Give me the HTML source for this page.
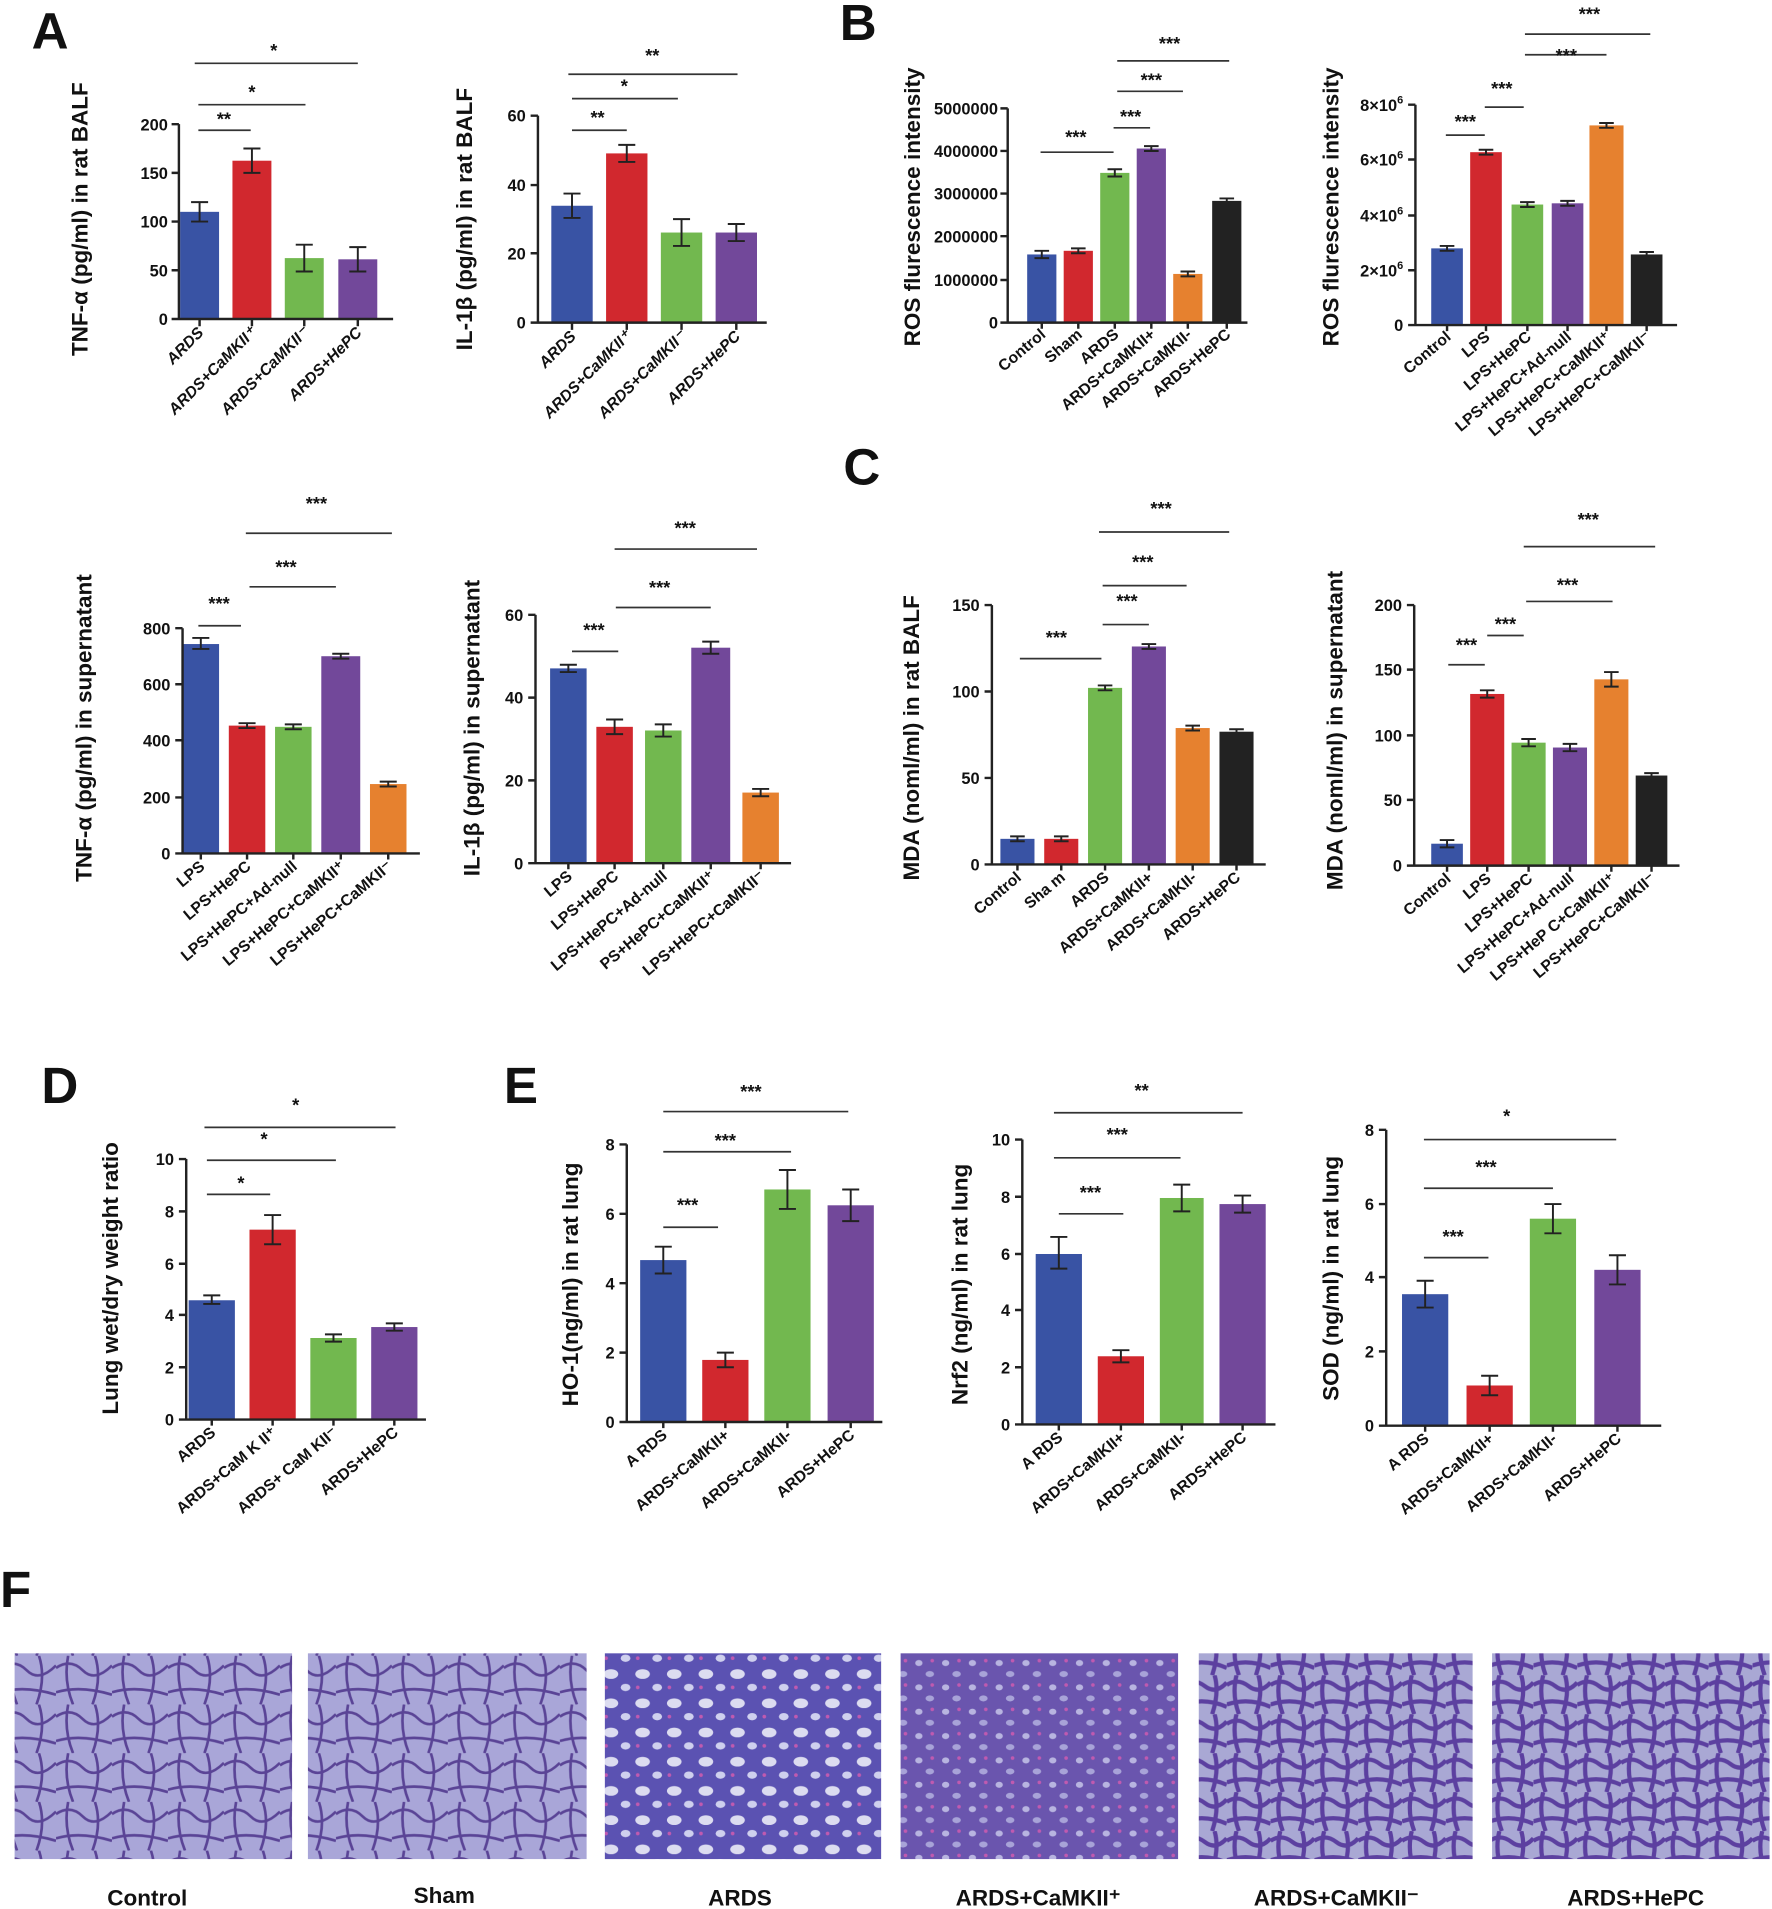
<!DOCTYPE html>
<html><head><meta charset="utf-8"><style>
html,body{margin:0;padding:0;background:#fff}
svg{display:block}
text{font-family:"Liberation Sans",Arial,sans-serif;font-weight:bold;fill:#111}
.t{font-size:13.5px}
.xl{font-size:13px}
.yl{font-size:18.5px}
.pl{font-size:42px}
.s{font-size:15px}
.ax{stroke:#222;stroke-width:2;fill:none}
.e{stroke:#222;stroke-width:1.6;fill:none}
.sg{stroke:#333;stroke-width:1.4}
.cap{font-size:18.5px}
</style></head><body>
<svg width="1772" height="1909" viewBox="0 0 1456 1568" preserveAspectRatio="none" xmlns="http://www.w3.org/2000/svg">
<defs>
<pattern id="pl" width="46" height="40" patternUnits="userSpaceOnUse">
<rect width="46" height="40" fill="#a9a6d8"/>
<path d="M0 10 Q12 2 22 12 T46 8 M10 0 Q6 20 14 40 M32 0 Q38 18 30 40 M0 30 Q20 24 46 32" stroke="#5a4496" stroke-width="2.2" fill="none"/>
</pattern>
<pattern id="pd" width="26" height="24" patternUnits="userSpaceOnUse">
<rect width="26" height="24" fill="#5b52b2"/>
<ellipse cx="8" cy="7" rx="6" ry="4" fill="#dcdcf0"/>
<ellipse cx="20" cy="18" rx="4" ry="3" fill="#cfd0ee"/>
<circle cx="4" cy="18" r="1.5" fill="#c05ab0"/>
</pattern>
<pattern id="pc" width="22" height="20" patternUnits="userSpaceOnUse">
<rect width="22" height="20" fill="#6a55ae"/>
<ellipse cx="7" cy="6" rx="3" ry="2.5" fill="#b8b4e0"/>
<ellipse cx="16" cy="15" rx="3.5" ry="2.5" fill="#a8a3d8"/>
<circle cx="18" cy="4" r="1.5" fill="#c05ab0"/>
</pattern>
<pattern id="pm" width="36" height="32" patternUnits="userSpaceOnUse">
<rect width="36" height="32" fill="#a9a8d4"/>
<path d="M0 8 Q9 2 18 9 T36 6 M8 0 Q4 16 10 32 M26 0 Q30 14 24 32 M0 24 Q18 18 36 26" stroke="#5c40a0" stroke-width="3.5" fill="none"/>
</pattern>
</defs>

<text x="26" y="40" class="pl">A</text>
<text x="690" y="33" class="pl">B</text>
<text x="693" y="398" class="pl">C</text>
<text x="34" y="906" class="pl">D</text>
<text x="414" y="906" class="pl">E</text>
<text x="0" y="1320" class="pl">F</text>

<!-- A1 -->
<g>
<rect x="148" y="174" width="32" height="88" fill="#3953a4"/>
<rect x="191" y="132" width="32" height="130" fill="#d1282e"/>
<rect x="234" y="212" width="32" height="50" fill="#72b84f"/>
<rect x="278" y="213" width="32" height="49" fill="#72489a"/>
<path class="e" d="M164 166V182M157 166h14M157 182h14 M207 122V142M200 122h14M200 142h14 M250 201V223M243 201h14M243 223h14 M294 203V223M287 203h14M287 223h14"/>
<path class="ax" d="M147 102V262H323 M141 102h6M141 142h6M141 182h6M141 222h6M141 262h6 M164 262v6M207 262v6M250 262v6M294 262v6"/>
<text class="t" text-anchor="end" x="138" y="107">200</text><text class="t" text-anchor="end" x="138" y="147">150</text><text class="t" text-anchor="end" x="138" y="187">100</text><text class="t" text-anchor="end" x="138" y="227">50</text><text class="t" text-anchor="end" x="138" y="267">0</text>
<path class="sg" d="M163 107H206 M163 86H251 M160 52H294"/>
<text class="s" x="184" y="103" text-anchor="middle">**</text><text class="s" x="207" y="81" text-anchor="middle">*</text><text class="s" x="225" y="47" text-anchor="middle">*</text>
<text class="yl" transform="translate(72,180) rotate(-90)" text-anchor="middle">TNF-α (pg/ml) in rat BALF</text>
<g font-style="italic"><text text-anchor="end" transform="translate(168,274) rotate(-45)" class="xl">ARDS</text><text text-anchor="end" transform="translate(211,274) rotate(-45)" class="xl">ARDS+CaMKII⁺</text><text text-anchor="end" transform="translate(254,274) rotate(-45)" class="xl">ARDS+CaMKII⁻</text><text text-anchor="end" transform="translate(298,274) rotate(-45)" class="xl">ARDS+HePC</text></g>
</g>

<!-- A2 -->
<g>
<rect x="453" y="169" width="34" height="96" fill="#3953a4"/>
<rect x="498" y="126" width="34" height="139" fill="#d1282e"/>
<rect x="543" y="191" width="34" height="74" fill="#72b84f"/>
<rect x="588" y="191" width="34" height="74" fill="#72489a"/>
<path class="e" d="M470 159V179M463 159h14M463 179h14 M515 119V133M508 119h14M508 133h14 M560 180V202M553 180h14M553 202h14 M605 184V198M598 184h14M598 198h14"/>
<path class="ax" d="M442 95V265H630 M436 95h6M436 152h6M436 208h6M436 265h6 M470 265v6M515 265v6M560 265v6M605 265v6"/>
<text class="t" text-anchor="end" x="432" y="100">60</text><text class="t" text-anchor="end" x="432" y="157">40</text><text class="t" text-anchor="end" x="432" y="213">20</text><text class="t" text-anchor="end" x="432" y="270">0</text>
<path class="sg" d="M470 107H515 M470 81H557 M467 61H606"/>
<text class="s" x="491" y="102" text-anchor="middle">**</text><text class="s" x="513" y="76" text-anchor="middle">*</text><text class="s" x="536" y="51" text-anchor="middle">**</text>
<text class="yl" transform="translate(388,180) rotate(-90)" text-anchor="middle">IL-1β (pg/ml) in rat BALF</text>
<g font-style="italic"><text text-anchor="end" transform="translate(474,277) rotate(-45)" class="xl">ARDS</text><text text-anchor="end" transform="translate(519,277) rotate(-45)" class="xl">ARDS+CaMKII⁺</text><text text-anchor="end" transform="translate(564,277) rotate(-45)" class="xl">ARDS+CaMKII⁻</text><text text-anchor="end" transform="translate(609,277) rotate(-45)" class="xl">ARDS+HePC</text></g>
</g>

<!-- B1 -->
<g>
<rect x="844" y="209" width="24" height="56" fill="#3953a4"/>
<rect x="874" y="206" width="24" height="59" fill="#d1282e"/>
<rect x="904" y="142" width="24" height="123" fill="#72b84f"/>
<rect x="934" y="122" width="24" height="143" fill="#72489a"/>
<rect x="964" y="225" width="24" height="40" fill="#e6812f"/>
<rect x="996" y="165" width="24" height="100" fill="#222"/>
<path class="e" d="M856 206V212M850 206h12M850 212h12 M886 204V208M880 204h12M880 208h12 M916 139V145M910 139h12M910 145h12 M946 120V124M940 120h12M940 124h12 M976 223V227M970 223h12M970 227h12 M1008 163V167M1002 163h12M1002 167h12"/>
<path class="ax" d="M828 89V265H1025 M822 89h6M822 124h6M822 159h6M822 194h6M822 230h6M822 265h6 M856 265v5M886 265v5M916 265v5M946 265v5M976 265v5M1008 265v5"/>
<text class="t" text-anchor="end" x="820" y="94">5000000</text><text class="t" text-anchor="end" x="820" y="129">4000000</text><text class="t" text-anchor="end" x="820" y="164">3000000</text><text class="t" text-anchor="end" x="820" y="199">2000000</text><text class="t" text-anchor="end" x="820" y="235">1000000</text><text class="t" text-anchor="end" x="820" y="270">0</text>
<path class="sg" d="M855 125H915 M915 105H945 M918 75H972 M918 50H1010"/>
<text class="s" x="884" y="118" text-anchor="middle">***</text><text class="s" x="929" y="101" text-anchor="middle">***</text><text class="s" x="946" y="71" text-anchor="middle">***</text><text class="s" x="961" y="41" text-anchor="middle">***</text>
<text class="yl" transform="translate(756,170) rotate(-90)" text-anchor="middle">ROS flurescence intensity</text>
<text text-anchor="end" transform="translate(860,276) rotate(-40)" class="xl">Control</text><text text-anchor="end" transform="translate(890,276) rotate(-40)" class="xl">Sham</text><text text-anchor="end" transform="translate(920,276) rotate(-40)" class="xl">ARDS</text><text text-anchor="end" transform="translate(950,276) rotate(-40)" class="xl">ARDS+CaMKII+</text><text text-anchor="end" transform="translate(980,276) rotate(-40)" class="xl">ARDS+CaMKII-</text><text text-anchor="end" transform="translate(1012,276) rotate(-40)" class="xl">ARDS+HePC</text>
</g>

<!-- B2 -->
<g>
<rect x="1176" y="204" width="26" height="63" fill="#3953a4"/>
<rect x="1208" y="125" width="26" height="142" fill="#d1282e"/>
<rect x="1242" y="168" width="26" height="99" fill="#72b84f"/>
<rect x="1275" y="167" width="26" height="100" fill="#72489a"/>
<rect x="1306" y="103" width="28" height="164" fill="#e6812f"/>
<rect x="1340" y="209" width="26" height="58" fill="#222"/>
<path class="e" d="M1189 202V206M1183 202h12M1183 206h12 M1221 123V127M1215 123h12M1215 127h12 M1255 166V170M1249 166h12M1249 170h12 M1288 165V169M1282 165h12M1282 169h12 M1320 101V105M1314 101h12M1314 105h12 M1353 207V211M1347 207h12M1347 211h12"/>
<path class="ax" d="M1163 86V267H1378 M1157 86h6M1157 131h6M1157 177h6M1157 222h6M1157 267h6 M1189 267v5M1221 267v5M1255 267v5M1288 267v5M1320 267v5M1353 267v5"/>
<text class="t" text-anchor="end" x="1153" y="91">8×10<tspan font-size="9" dy="-6">6</tspan></text><text class="t" text-anchor="end" x="1153" y="136">6×10<tspan font-size="9" dy="-6">6</tspan></text><text class="t" text-anchor="end" x="1153" y="182">4×10<tspan font-size="9" dy="-6">6</tspan></text><text class="t" text-anchor="end" x="1153" y="227">2×10<tspan font-size="9" dy="-6">6</tspan></text><text class="t" text-anchor="end" x="1153" y="272">0</text>
<path class="sg" d="M1188 111H1220 M1220 88H1252 M1253 45H1320 M1253 28H1356"/>
<text class="s" x="1204" y="105" text-anchor="middle">***</text><text class="s" x="1234" y="78" text-anchor="middle">***</text><text class="s" x="1287" y="51" text-anchor="middle">***</text><text class="s" x="1306" y="17" text-anchor="middle">***</text>
<text class="yl" transform="translate(1100,170) rotate(-90)" text-anchor="middle">ROS flurescence intensity</text>
<text text-anchor="end" transform="translate(1193,278) rotate(-40)" class="xl">Control</text><text text-anchor="end" transform="translate(1225,278) rotate(-40)" class="xl">LPS</text><text text-anchor="end" transform="translate(1259,278) rotate(-40)" class="xl">LPS+HePC</text><text text-anchor="end" transform="translate(1292,278) rotate(-40)" class="xl">LPS+HePC+Ad-null</text><text text-anchor="end" transform="translate(1324,278) rotate(-40)" class="xl">LPS+HePC+CaMKII⁺</text><text text-anchor="end" transform="translate(1357,278) rotate(-40)" class="xl">LPS+HePC+CaMKII⁻</text>
</g>

<!-- C1 -->
<g>
<rect x="150" y="529" width="30" height="172" fill="#3953a4"/>
<rect x="188" y="596" width="30" height="105" fill="#d1282e"/>
<rect x="226" y="597" width="30" height="104" fill="#72b84f"/>
<rect x="264" y="539" width="32" height="162" fill="#72489a"/>
<rect x="304" y="644" width="30" height="57" fill="#e6812f"/>
<path class="e" d="M165 524V533M158 524h14M158 533h14 M203 594V598M196 594h14M196 598h14 M241 595V599M234 595h14M234 599h14 M280 537V541M273 537h14M273 541h14 M319 642V646M312 642h14M312 646h14"/>
<path class="ax" d="M150 516V701H345 M144 516h6M144 562h6M144 608h6M144 655h6M144 701h6 M165 701v5M203 701v5M241 701v5M280 701v5M319 701v5"/>
<text class="t" text-anchor="end" x="140" y="521">800</text><text class="t" text-anchor="end" x="140" y="567">600</text><text class="t" text-anchor="end" x="140" y="613">400</text><text class="t" text-anchor="end" x="140" y="660">200</text><text class="t" text-anchor="end" x="140" y="706">0</text>
<path class="sg" d="M163 514H198 M205 482H276 M202 438H322"/>
<text class="s" x="180" y="501" text-anchor="middle">***</text><text class="s" x="235" y="471" text-anchor="middle">***</text><text class="s" x="260" y="419" text-anchor="middle">***</text>
<text class="yl" transform="translate(75,598) rotate(-90)" text-anchor="middle">TNF-α (pg/ml) in supernatant</text>
<text text-anchor="end" transform="translate(169,713) rotate(-40)" class="xl">LPS</text><text text-anchor="end" transform="translate(207,713) rotate(-40)" class="xl">LPS+HePC</text><text text-anchor="end" transform="translate(245,713) rotate(-40)" class="xl">LPS+HePC+Ad-null</text><text text-anchor="end" transform="translate(284,713) rotate(-40)" class="xl">LPS+HePC+CaMKII⁺</text><text text-anchor="end" transform="translate(323,713) rotate(-40)" class="xl">LPS+HePC+CaMKII⁻</text>
</g>

<!-- C2 -->
<g>
<rect x="452" y="549" width="30" height="160" fill="#3953a4"/>
<rect x="490" y="597" width="30" height="112" fill="#d1282e"/>
<rect x="530" y="600" width="30" height="109" fill="#72b84f"/>
<rect x="568" y="532" width="32" height="177" fill="#72489a"/>
<rect x="610" y="651" width="30" height="58" fill="#e6812f"/>
<path class="e" d="M467 546V552M460 546h14M460 552h14 M505 591V603M498 591h14M498 603h14 M545 595V605M538 595h14M538 605h14 M584 527V537M577 527h14M577 537h14 M625 648V654M618 648h14M618 654h14"/>
<path class="ax" d="M440 505V709H650 M434 505h6M434 573h6M434 641h6M434 709h6 M467 709v5M505 709v5M545 709v5M584 709v5M625 709v5"/>
<text class="t" text-anchor="end" x="430" y="510">60</text><text class="t" text-anchor="end" x="430" y="578">40</text><text class="t" text-anchor="end" x="430" y="646">20</text><text class="t" text-anchor="end" x="430" y="714">0</text>
<path class="sg" d="M470 535H508 M506 499H584 M505 451H622"/>
<text class="s" x="488" y="523" text-anchor="middle">***</text><text class="s" x="542" y="488" text-anchor="middle">***</text><text class="s" x="563" y="439" text-anchor="middle">***</text>
<text class="yl" transform="translate(394,598) rotate(-90)" text-anchor="middle">IL-1β  (pg/ml) in supernatant</text>
<text text-anchor="end" transform="translate(471,721) rotate(-40)" class="xl">LPS</text><text text-anchor="end" transform="translate(509,721) rotate(-40)" class="xl">LPS+HePC</text><text text-anchor="end" transform="translate(549,721) rotate(-40)" class="xl">LPS+HePC+Ad-null</text><text text-anchor="end" transform="translate(588,721) rotate(-40)" class="xl">PS+HePC+CaMKII⁺</text><text text-anchor="end" transform="translate(629,721) rotate(-40)" class="xl">LPS+HePC+CaMKII⁻</text>
</g>

<!-- C3 -->
<g>
<rect x="822" y="689" width="28" height="21" fill="#3953a4"/>
<rect x="858" y="689" width="28" height="21" fill="#d1282e"/>
<rect x="894" y="565" width="28" height="145" fill="#72b84f"/>
<rect x="930" y="531" width="28" height="179" fill="#72489a"/>
<rect x="966" y="598" width="28" height="112" fill="#e6812f"/>
<rect x="1002" y="601" width="28" height="109" fill="#222"/>
<path class="e" d="M836 687V691M830 687h12M830 691h12 M872 687V691M866 687h12M866 691h12 M908 563V567M902 563h12M902 567h12 M944 529V533M938 529h12M938 533h12 M980 596V600M974 596h12M974 600h12 M1016 599V603M1010 599h12M1010 603h12"/>
<path class="ax" d="M815 497V710H1040 M809 497h6M809 568h6M809 639h6M809 710h6 M836 710v5M872 710v5M908 710v5M944 710v5M980 710v5M1016 710v5"/>
<text class="t" text-anchor="end" x="805" y="502">150</text><text class="t" text-anchor="end" x="805" y="573">100</text><text class="t" text-anchor="end" x="805" y="644">50</text><text class="t" text-anchor="end" x="805" y="715">0</text>
<path class="sg" d="M838 541H905 M906 513H944 M906 481H975 M903 437H1010"/>
<text class="s" x="868" y="529" text-anchor="middle">***</text><text class="s" x="926" y="499" text-anchor="middle">***</text><text class="s" x="939" y="467" text-anchor="middle">***</text><text class="s" x="954" y="423" text-anchor="middle">***</text>
<text class="yl" transform="translate(755,606) rotate(-90)" text-anchor="middle">MDA (noml/ml) in rat BALF</text>
<text text-anchor="end" transform="translate(840,722) rotate(-40)" class="xl">Control</text><text text-anchor="end" transform="translate(876,722) rotate(-40)" class="xl">Sha m</text><text text-anchor="end" transform="translate(912,722) rotate(-40)" class="xl">ARDS</text><text text-anchor="end" transform="translate(948,722) rotate(-40)" class="xl">ARDS+CaMKII+</text><text text-anchor="end" transform="translate(984,722) rotate(-40)" class="xl">ARDS+CaMKII-</text><text text-anchor="end" transform="translate(1020,722) rotate(-40)" class="xl">ARDS+HePC</text>
</g>

<!-- C4 -->
<g>
<rect x="1176" y="693" width="26" height="18" fill="#3953a4"/>
<rect x="1208" y="570" width="28" height="141" fill="#d1282e"/>
<rect x="1242" y="610" width="28" height="101" fill="#72b84f"/>
<rect x="1276" y="614" width="28" height="97" fill="#72489a"/>
<rect x="1310" y="558" width="28" height="153" fill="#e6812f"/>
<rect x="1344" y="637" width="26" height="74" fill="#222"/>
<path class="e" d="M1189 690V696M1183 690h12M1183 696h12 M1222 567V573M1216 567h12M1216 573h12 M1256 607V613M1250 607h12M1250 613h12 M1290 611V617M1284 611h12M1284 617h12 M1324 552V564M1318 552h12M1318 564h12 M1357 635V639M1351 635h12M1351 639h12"/>
<path class="ax" d="M1162 497V711H1380 M1156 497h6M1156 550h6M1156 604h6M1156 657h6M1156 711h6 M1189 711v5M1222 711v5M1256 711v5M1290 711v5M1324 711v5M1357 711v5"/>
<text class="t" text-anchor="end" x="1152" y="502">200</text><text class="t" text-anchor="end" x="1152" y="555">150</text><text class="t" text-anchor="end" x="1152" y="609">100</text><text class="t" text-anchor="end" x="1152" y="662">50</text><text class="t" text-anchor="end" x="1152" y="716">0</text>
<path class="sg" d="M1190 546H1220 M1222 522H1252 M1254 494H1325 M1252 449H1360"/>
<text class="s" x="1205" y="535" text-anchor="middle">***</text><text class="s" x="1237" y="518" text-anchor="middle">***</text><text class="s" x="1288" y="486" text-anchor="middle">***</text><text class="s" x="1305" y="432" text-anchor="middle">***</text>
<text class="yl" transform="translate(1103,600) rotate(-90)" text-anchor="middle">MDA (noml/ml) in supernatant</text>
<text text-anchor="end" transform="translate(1193,723) rotate(-40)" class="xl">Control</text><text text-anchor="end" transform="translate(1226,723) rotate(-40)" class="xl">LPS</text><text text-anchor="end" transform="translate(1260,723) rotate(-40)" class="xl">LPS+HePC</text><text text-anchor="end" transform="translate(1294,723) rotate(-40)" class="xl">LPS+HePC+Ad-null</text><text text-anchor="end" transform="translate(1328,723) rotate(-40)" class="xl">LPS+HeP C+CaMKII⁺</text><text text-anchor="end" transform="translate(1361,723) rotate(-40)" class="xl">LPS+HePC+CaMKII⁻</text>
</g>

<!-- D -->
<g>
<rect x="155" y="1068" width="38" height="98" fill="#3953a4"/>
<rect x="205" y="1010" width="38" height="156" fill="#d1282e"/>
<rect x="255" y="1099" width="38" height="67" fill="#72b84f"/>
<rect x="305" y="1090" width="38" height="76" fill="#72489a"/>
<path class="e" d="M174 1064V1071M167 1064h14M167 1071h14 M224 998V1022M217 998h14M217 1022h14 M274 1096V1102M267 1096h14M267 1102h14 M324 1087V1093M317 1087h14M317 1093h14"/>
<path class="ax" d="M153 952V1166H350 M147 952h6M147 995h6M147 1038h6M147 1080h6M147 1123h6M147 1166h6 M174 1166v5M224 1166v5M274 1166v5M324 1166v5"/>
<text class="t" text-anchor="end" x="143" y="957">10</text><text class="t" text-anchor="end" x="143" y="1000">8</text><text class="t" text-anchor="end" x="143" y="1043">6</text><text class="t" text-anchor="end" x="143" y="1085">4</text><text class="t" text-anchor="end" x="143" y="1128">2</text><text class="t" text-anchor="end" x="143" y="1171">0</text>
<path class="sg" d="M170 981H222 M170 953H276 M168 926H325"/>
<text class="s" x="198" y="977" text-anchor="middle">*</text><text class="s" x="217" y="941" text-anchor="middle">*</text><text class="s" x="243" y="913" text-anchor="middle">*</text>
<text class="yl" transform="translate(97,1050) rotate(-90)" text-anchor="middle">Lung wet/dry weight ratio</text>
<text text-anchor="end" transform="translate(178,1178) rotate(-40)" class="xl">ARDS</text><text text-anchor="end" transform="translate(228,1178) rotate(-40)" class="xl">ARDS+CaM K II⁺</text><text text-anchor="end" transform="translate(278,1178) rotate(-40)" class="xl">ARDS+ CaM KII⁻</text><text text-anchor="end" transform="translate(328,1178) rotate(-40)" class="xl">ARDS+HePC</text>
</g>

<!-- E1 -->
<g>
<rect x="526" y="1035" width="38" height="133" fill="#3953a4"/>
<rect x="577" y="1117" width="38" height="51" fill="#d1282e"/>
<rect x="628" y="977" width="38" height="191" fill="#72b84f"/>
<rect x="680" y="990" width="38" height="178" fill="#72489a"/>
<path class="e" d="M545 1024V1046M538 1024h14M538 1046h14 M596 1111V1123M589 1111h14M589 1123h14 M647 961V993M640 961h14M640 993h14 M699 977V1003M692 977h14M692 1003h14"/>
<path class="ax" d="M515 940V1168H725 M509 940h6M509 997h6M509 1054h6M509 1111h6M509 1168h6 M545 1168v5M596 1168v5M647 1168v5M699 1168v5"/>
<text class="t" text-anchor="end" x="505" y="945">8</text><text class="t" text-anchor="end" x="505" y="1002">6</text><text class="t" text-anchor="end" x="505" y="1059">4</text><text class="t" text-anchor="end" x="505" y="1116">2</text><text class="t" text-anchor="end" x="505" y="1173">0</text>
<path class="sg" d="M545 1008H590 M545 946H650 M545 913H697"/>
<text class="s" x="565" y="995" text-anchor="middle">***</text><text class="s" x="596" y="942" text-anchor="middle">***</text><text class="s" x="617" y="902" text-anchor="middle">***</text>
<text class="yl" transform="translate(475,1055) rotate(-90)" text-anchor="middle">HO-1(ng/ml) in rat lung</text>
<text text-anchor="end" transform="translate(549,1180) rotate(-40)" class="xl">A RDS</text><text text-anchor="end" transform="translate(600,1180) rotate(-40)" class="xl">ARDS+CaMKII+</text><text text-anchor="end" transform="translate(651,1180) rotate(-40)" class="xl">ARDS+CaMKII-</text><text text-anchor="end" transform="translate(703,1180) rotate(-40)" class="xl">ARDS+HePC</text>
</g>

<!-- E2 -->
<g>
<rect x="851" y="1030" width="38" height="140" fill="#3953a4"/>
<rect x="902" y="1114" width="38" height="56" fill="#d1282e"/>
<rect x="953" y="984" width="36" height="186" fill="#72b84f"/>
<rect x="1002" y="989" width="38" height="181" fill="#72489a"/>
<path class="e" d="M870 1016V1042M863 1016h14M863 1042h14 M921 1109V1119M914 1109h14M914 1119h14 M971 973V995M964 973h14M964 995h14 M1021 982V996M1014 982h14M1014 996h14"/>
<path class="ax" d="M840 936V1170H1048 M834 936h6M834 983h6M834 1030h6M834 1076h6M834 1123h6M834 1170h6 M870 1170v5M921 1170v5M971 1170v5M1021 1170v5"/>
<text class="t" text-anchor="end" x="830" y="941">10</text><text class="t" text-anchor="end" x="830" y="988">8</text><text class="t" text-anchor="end" x="830" y="1035">6</text><text class="t" text-anchor="end" x="830" y="1081">4</text><text class="t" text-anchor="end" x="830" y="1128">2</text><text class="t" text-anchor="end" x="830" y="1175">0</text>
<path class="sg" d="M870 997H923 M866 951H970 M866 914H1021"/>
<text class="s" x="896" y="985" text-anchor="middle">***</text><text class="s" x="918" y="937" text-anchor="middle">***</text><text class="s" x="938" y="901" text-anchor="middle">**</text>
<text class="yl" transform="translate(795,1055) rotate(-90)" text-anchor="middle">Nrf2 (ng/ml) in rat lung</text>
<text text-anchor="end" transform="translate(874,1182) rotate(-40)" class="xl">A RDS</text><text text-anchor="end" transform="translate(925,1182) rotate(-40)" class="xl">ARDS+CaMKII+</text><text text-anchor="end" transform="translate(975,1182) rotate(-40)" class="xl">ARDS+CaMKII-</text><text text-anchor="end" transform="translate(1025,1182) rotate(-40)" class="xl">ARDS+HePC</text>
</g>

<!-- E3 -->
<g>
<rect x="1152" y="1063" width="38" height="108" fill="#3953a4"/>
<rect x="1205" y="1138" width="38" height="33" fill="#d1282e"/>
<rect x="1257" y="1001" width="38" height="170" fill="#72b84f"/>
<rect x="1310" y="1043" width="38" height="128" fill="#72489a"/>
<path class="e" d="M1171 1052V1074M1164 1052h14M1164 1074h14 M1224 1130V1146M1217 1130h14M1217 1146h14 M1276 989V1013M1269 989h14M1269 1013h14 M1329 1031V1055M1322 1031h14M1322 1055h14"/>
<path class="ax" d="M1139 928V1171H1365 M1133 928h6M1133 989h6M1133 1049h6M1133 1110h6M1133 1171h6 M1171 1171v5M1224 1171v5M1276 1171v5M1329 1171v5"/>
<text class="t" text-anchor="end" x="1129" y="933">8</text><text class="t" text-anchor="end" x="1129" y="994">6</text><text class="t" text-anchor="end" x="1129" y="1054">4</text><text class="t" text-anchor="end" x="1129" y="1115">2</text><text class="t" text-anchor="end" x="1129" y="1176">0</text>
<path class="sg" d="M1170 1033H1223 M1170 976H1276 M1170 936H1328"/>
<text class="s" x="1194" y="1021" text-anchor="middle">***</text><text class="s" x="1221" y="964" text-anchor="middle">***</text><text class="s" x="1238" y="922" text-anchor="middle">*</text>
<text class="yl" transform="translate(1100,1050) rotate(-90)" text-anchor="middle">SOD (ng/ml) in rat lung</text>
<text text-anchor="end" transform="translate(1175,1183) rotate(-40)" class="xl">A RDS</text><text text-anchor="end" transform="translate(1228,1183) rotate(-40)" class="xl">ARDS+CaMKII+</text><text text-anchor="end" transform="translate(1280,1183) rotate(-40)" class="xl">ARDS+CaMKII-</text><text text-anchor="end" transform="translate(1333,1183) rotate(-40)" class="xl">ARDS+HePC</text>
</g>

<!-- F -->
<rect x="12" y="1358" width="228" height="169" fill="url(#pl)"/>
<rect x="253" y="1358" width="229" height="169" fill="url(#pl)"/>
<rect x="497" y="1358" width="227" height="169" fill="url(#pd)"/>
<rect x="740" y="1358" width="228" height="169" fill="url(#pc)"/>
<rect x="985" y="1358" width="225" height="169" fill="url(#pm)"/>
<rect x="1226" y="1358" width="228" height="169" fill="url(#pm)"/>
<text class="cap" x="121" y="1565" text-anchor="middle">Control</text>
<text class="cap" x="365" y="1563" text-anchor="middle">Sham</text>
<text class="cap" x="608" y="1565" text-anchor="middle">ARDS</text>
<text class="cap" x="853" y="1565" text-anchor="middle">ARDS+CaMKII⁺</text>
<text class="cap" x="1098" y="1565" text-anchor="middle">ARDS+CaMKII⁻</text>
<text class="cap" x="1344" y="1565" text-anchor="middle">ARDS+HePC</text>
</svg>
</body></html>
